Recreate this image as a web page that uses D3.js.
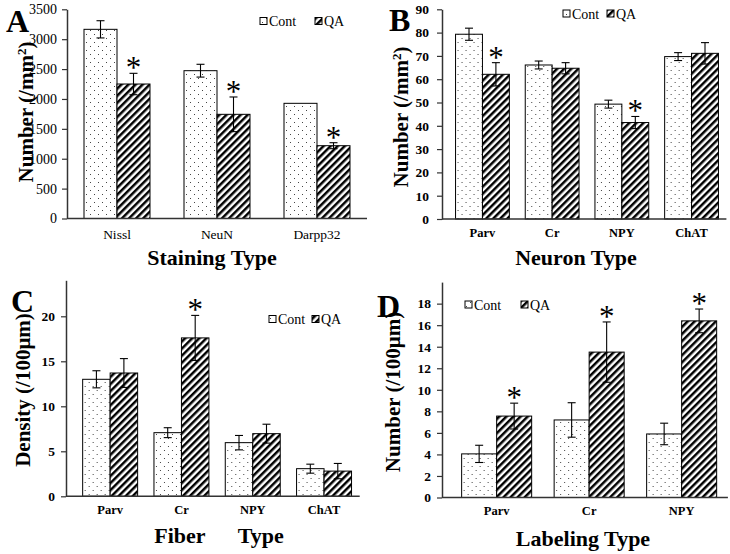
<!DOCTYPE html>
<html>
<head>
<meta charset="utf-8">
<script src="https://cdn.jsdelivr.net/npm/d3@7"></script>
<style>
  html, body { margin: 0; padding: 0; background: #fff; }
  svg { display: block; }
  text { font-family: "Liberation Serif", "Times New Roman", serif; fill: #000; }
</style>
</head>
<body>
<svg id="chart" width="730" height="554"></svg>
<script>
// ---------- Data ----------
const seriesNames = ["Cont", "QA"];

const catsA = ["Nissl", "NeuN", "Darpp32"];
const contA = [3165, 2473, 1927];
const contErrA = [144, 107, 0];
const qaA = [2250, 1743, 1218];
const qaErrA = [179, 290, 50];
const sigA = [true, true, true];
const ticksA = [0, 500, 1000, 1500, 2000, 2500, 3000, 3500];

const catsB = ["Parv", "Cr", "NPY", "ChAT"];
const contB = [79.3, 66.1, 49.3, 69.7];
const contErrB = [2.6, 1.7, 1.7, 1.7];
const qaB = [62.1, 64.7, 41.4, 71.1];
const qaErrB = [5.0, 2.4, 2.6, 4.6];
const sigB = [true, false, true, false];
const ticksB = [0, 10, 20, 30, 40, 50, 60, 70, 80, 90];

const catsC = ["Parv", "Cr", "NPY", "ChAT"];
const contC = [13.0, 7.07, 5.96, 3.07];
const contErrC = [0.95, 0.55, 0.8, 0.5];
const qaC = [13.7, 17.6, 6.96, 2.8];
const qaErrC = [1.6, 2.5, 1.05, 0.85];
const sigC = [false, true, false, false];
const ticksC = [0, 5, 10, 15, 20];

const catsD = ["Parv", "Cr", "NPY"];
const contD = [4.05, 7.2, 5.9];
const contErrD = [0.8, 1.6, 1.0];
const qaD = [7.56, 13.5, 16.4];
const qaErrD = [1.2, 2.8, 1.1];
const sigD = [true, true, true];
const ticksD = [0, 2, 4, 6, 8, 10, 12, 14, 16, 18];

// ---------- Drawing ----------
const FONT = "Liberation Serif, Times New Roman, serif";
const svg = d3.select("#chart");
const defs = svg.append("defs");

const dots = defs.append("pattern").attr("id", "dots")
  .attr("patternUnits", "userSpaceOnUse").attr("width", 8).attr("height", 8);
dots.append("rect").attr("width", 8).attr("height", 8).attr("fill", "#fff");
dots.append("rect").attr("x", 2).attr("y", 2).attr("width", 1).attr("height", 1).attr("fill", "#444");
dots.append("rect").attr("x", 6).attr("y", 6).attr("width", 1).attr("height", 1).attr("fill", "#444");

const hatch = defs.append("pattern").attr("id", "hatch")
  .attr("patternUnits", "userSpaceOnUse").attr("width", 5).attr("height", 5)
  .attr("patternTransform", "rotate(45)");
hatch.append("rect").attr("width", 5).attr("height", 5).attr("fill", "#fff");
hatch.append("rect").attr("width", 2.5).attr("height", 5).attr("fill", "#000");

const fills = { Cont: "url(#dots)", QA: "url(#hatch)" };

function panel(cfg) {
  const g = svg.append("g");
  const x = d3.scaleBand().domain(cfg.cats).range(cfg.xr)
    .paddingInner(cfg.pad).paddingOuter(cfg.pad / 2);
  const xs = d3.scaleBand().domain(seriesNames).range([0, x.bandwidth()]);
  const y = d3.scaleLinear().domain([0, cfg.ymax]).range(cfg.yr);

  const rows = cfg.cats.map((c, i) => ({
    cat: c, i,
    vals: [
      { s: "Cont", v: cfg.cont[i], e: cfg.contErr[i], sig: false },
      { s: "QA", v: cfg.qa[i], e: cfg.qaErr[i], sig: cfg.sig[i] }
    ]
  }));

  const grp = g.selectAll("g.cat").data(rows).join("g")
    .attr("transform", d => `translate(${x(d.cat)},0)`);

  const bars = grp.selectAll("g.bar").data(d => d.vals).join("g");
  bars.append("rect")
    .attr("x", d => xs(d.s))
    .attr("y", d => y(d.v))
    .attr("width", xs.bandwidth())
    .attr("height", d => y(0) - y(d.v))
    .attr("fill", d => fills[d.s])
    .attr("stroke", "#000").attr("stroke-width", 1);

  const eb = bars.filter(d => d.e > 0);
  const cx = d => xs(d.s) + xs.bandwidth() / 2;
  eb.append("line").attr("x1", cx).attr("x2", cx)
    .attr("y1", d => y(d.v - d.e)).attr("y2", d => y(d.v + d.e))
    .attr("stroke", "#000").attr("stroke-width", 1.1);
  eb.append("line").attr("x1", d => cx(d) - 4).attr("x2", d => cx(d) + 4)
    .attr("y1", d => y(d.v + d.e)).attr("y2", d => y(d.v + d.e))
    .attr("stroke", "#000").attr("stroke-width", 1.1);
  eb.append("line").attr("x1", d => cx(d) - 4).attr("x2", d => cx(d) + 4)
    .attr("y1", d => y(d.v - d.e)).attr("y2", d => y(d.v - d.e))
    .attr("stroke", "#000").attr("stroke-width", 1.1);

  bars.filter(d => d.sig).append("text")
    .attr("x", cx).attr("y", d => y(d.v + d.e) + 5)
    .attr("text-anchor", "middle")
    .style("font-size", "31px")
    .text("*");

  // y axis
  const ya = g.append("g").attr("transform", `translate(${cfg.ax},0)`)
    .call(d3.axisLeft(y).tickValues(cfg.ticks).tickFormat(d3.format("d"))
      .tickSize(5).tickSizeOuter(0).tickPadding(cfg.tpad));
  ya.attr("font-family", FONT);
  ya.select(".domain").attr("stroke", "#333").attr("stroke-width", 1.5);
  ya.selectAll(".tick line").attr("stroke", "#333").attr("stroke-width", 1.2);
  ya.selectAll(".tick text").style("font-family", FONT)
    .style("font-size", cfg.tfs).style("font-weight", cfg.tfw).attr("fill", "#000");

  // x axis line
  g.append("line").attr("x1", cfg.ax).attr("x2", cfg.xr[1])
    .attr("y1", y(0)).attr("y2", y(0))
    .attr("stroke", "#333").attr("stroke-width", 1.5);
  const xa = g.append("g").attr("transform", `translate(0,${y(0)})`)
    .call(d3.axisBottom(x).tickSize(0).tickPadding(cfg.xpad));
  xa.attr("font-family", FONT);
  xa.select(".domain").remove();
  xa.selectAll(".tick text").style("font-family", FONT)
    .style("font-size", cfg.cfs).style("font-weight", cfg.tfw).attr("fill", "#000");

  // axis titles
  const yt = g.append("text")
    .attr("transform", `translate(${cfg.ytx},${cfg.yty}) rotate(-90)`)
    .attr("text-anchor", "middle")
    .style("font-size", "21px").style("font-weight", "bold");
  yt.text(cfg.ytitle);
  if (cfg.ysup) {
    yt.append("tspan").attr("baseline-shift", "super").style("font-size", "13px").text(cfg.ysup);
    yt.append("tspan").text(")");
  }
  g.append("text").attr("x", cfg.xtx).attr("y", cfg.xty)
    .attr("text-anchor", "middle")
    .style("font-size", "22px").style("font-weight", "bold")
    .style("white-space", "pre")
    .text(cfg.xtitle);

  // legend
  const lg = g.append("g");
  seriesNames.forEach((s, i) => {
    const lx = cfg.leg[i];
    lg.append("rect").attr("x", lx).attr("y", cfg.legy - 4).attr("width", 7).attr("height", 7)
      .attr("fill", fills[s]).attr("stroke", "#000").attr("stroke-width", 1);
    lg.append("text").attr("x", lx + 9).attr("y", cfg.legy + 4.5)
      .style("font-size", "14px").text(s);
  });

  // panel letter
  g.append("text").attr("x", cfg.lx).attr("y", cfg.ly)
    .style("font-size", "32px").style("font-weight", "bold").text(cfg.letter);
}

panel({
  cats: catsA, cont: contA, contErr: contErrA, qa: qaA, qaErr: qaErrA, sig: sigA,
  ticks: ticksA, ymax: 3500, yr: [218.5, 9.3], xr: [67, 367], pad: 0.34, ax: 67,
  tpad: 5, tfs: "14px", tfw: "normal", cfs: "13.5px", xpad: 11,
  ytitle: "Number (/mm", ysup: "2", ytx: 33, yty: 112,
  xtitle: "Staining Type", xtx: 212, xty: 265,
  leg: [260, 315], legy: 21.5, letter: "A", lx: 6, ly: 32
});
panel({
  cats: catsB, cont: contB, contErr: contErrB, qa: qaB, qaErr: qaErrB, sig: sigB,
  ticks: ticksB, ymax: 90, yr: [219, 9.3], xr: [447.6, 726.4], pad: 0.228, ax: 442,
  tpad: 8, tfs: "13.5px", tfw: "bold", cfs: "12.5px", xpad: 9,
  ytitle: "Number (/mm", ysup: "2", ytx: 408, yty: 117,
  xtitle: "Neuron Type", xtx: 576, xty: 265,
  leg: [563, 607], legy: 14, letter: "B", lx: 389, ly: 31
});
panel({
  cats: catsC, cont: contC, contErr: contErrC, qa: qaC, qaErr: qaErrC, sig: sigC,
  ticks: ticksC, ymax: 24, yr: [496.3, 280.3], xr: [74.5, 359.7], pad: 0.229, ax: 66,
  tpad: 6, tfs: "13.5px", tfw: "bold", cfs: "12.5px", xpad: 9,
  ytitle: "Density (/100μm)", ysup: null, ytx: 30, yty: 390,
  xtitle: "Fiber      Type", xtx: 219, xty: 543,
  leg: [269, 312], legy: 319.5, letter: "C", lx: 11, ly: 312
});
panel({
  cats: catsD, cont: contD, contErr: contErrD, qa: qaD, qaErr: qaErrD, sig: sigD,
  ticks: ticksD, ymax: 20, yr: [497.5, 282.1], xr: [450.4, 727.9], pad: 0.243, ax: 442,
  tpad: 6, tfs: "13.5px", tfw: "bold", cfs: "12.5px", xpad: 9,
  ytitle: "Number (/100μm)", ysup: null, ytx: 400, yty: 392,
  xtitle: "Labeling Type", xtx: 583, xty: 546,
  leg: [465, 521], legy: 305, letter: "D", lx: 377, ly: 317
});
</script>
</body>
</html>
